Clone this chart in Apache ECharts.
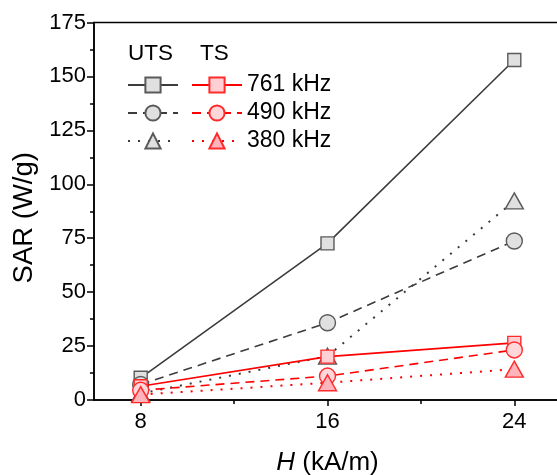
<!DOCTYPE html>
<html>
<head>
<meta charset="utf-8">
<script src="https://cdn.jsdelivr.net/npm/echarts@6/dist/echarts.min.js"></script>
<style>
  html, body { margin: 0; padding: 0; background: #fff; }
  #chart { width: 557px; height: 475px; }
</style>
</head>
<body>
<div id="chart"></div>
<script>
// Applied field strength H (kA/m)
const fieldH = [8, 16, 24];
// Frequencies
const freqLabels = ['761 kHz', '490 kHz', '380 kHz'];
// SAR (W/g) for untreated samples (UTS)
const uts761 = [10.3, 72.6, 157.6];
const uts490 = [7.2, 35.8, 73.7];
const uts380 = [3.0, 20.3, 92.3];
// SAR (W/g) for treated samples (TS)
const ts761 = [6.4, 20.1, 26.5];
const ts490 = [4.5, 11.1, 23.2];
const ts380 = [2.5, 8.0, 14.3];
// Axis ticks
const yTicks = [0, 25, 50, 75, 100, 125, 150, 175];
const xMajorTicks = [8, 16, 24];
const xMinorTicks = [12, 20];

const FONT = '"Liberation Sans", Arial, sans-serif';
const GRAY_LINE = '#3c3c3c';
const GRAY_FILL = '#e0e0e0';
const GRAY_EDGE = '#5a5a5a';
const RED_LINE = '#ff0000';
const RED_EDGE = '#ff2a2a';

const pairs = arr => fieldH.map((h, i) => [h, arr[i]]);

function makeSeries(name, values, group, shape, dash, fill) {
  const isGray = group === 'UTS';
  let size = 13;
  if (shape === 'circle') size = 16;
  if (shape === 'triangle') size = [18, 16];
  return {
    name: name,
    type: 'line',
    data: pairs(values),
    symbol: shape,
    symbolSize: size,
    showSymbol: true,
    animation: false,
    lineStyle: {
      color: isGray ? GRAY_LINE : RED_LINE,
      width: dash === 'dotted' ? 2 : 1.6,
      type: dash === 'solid' ? 'solid' : (dash === 'dashed' ? [9, 6] : [2, 8])
    },
    itemStyle: {
      color: fill,
      borderColor: isGray ? GRAY_EDGE : RED_EDGE,
      borderWidth: 1.4
    },
    emphasis: { disabled: true },
    z: isGray ? 2 : 3
  };
}

const series = [
  makeSeries('UTS ' + freqLabels[0], uts761, 'UTS', 'rect', 'solid', GRAY_FILL),
  makeSeries('UTS ' + freqLabels[1], uts490, 'UTS', 'circle', 'dashed', GRAY_FILL),
  makeSeries('UTS ' + freqLabels[2], uts380, 'UTS', 'triangle', 'dotted', GRAY_FILL),
  makeSeries('TS ' + freqLabels[0], ts761, 'TS', 'rect', 'solid', '#ffcfd4'),
  makeSeries('TS ' + freqLabels[1], ts490, 'TS', 'circle', 'dashed', '#ffd6da'),
  makeSeries('TS ' + freqLabels[2], ts380, 'TS', 'triangle', 'dotted', '#ffb3bb')
];

const legendCommon = {
  orient: 'vertical',
  top: 66,
  itemWidth: 50,
  itemHeight: 19,
  itemGap: 0,
  selectedMode: false,
  textStyle: { fontFamily: FONT, fontSize: 23, color: '#000', lineHeight: 28 }
};

const chart = echarts.init(document.getElementById('chart'), null, { renderer: 'canvas' });
chart.setOption({
  backgroundColor: '#fff',
  animation: false,
  grid: {
    left: 94, top: 22.5, bottom: 75, right: -4,
    outerBoundsMode: 'none',
    containLabel: false,
    show: true, borderColor: '#000', borderWidth: 1.5, backgroundColor: 'transparent'
  },
  legend: [
    Object.assign({}, legendCommon, {
      left: 122,
      data: series.slice(0, 3).map(s => s.name),
      formatter: () => ' '
    }),
    Object.assign({}, legendCommon, {
      left: 186,
      data: series.slice(3).map(s => s.name),
      formatter: name => name.replace('TS ', '')
    })
  ],
  graphic: [
    { type: 'text', left: 128, top: 42, style: { text: 'UTS', font: '22.5px ' + FONT, fill: '#000' } },
    { type: 'text', left: 200, top: 42, style: { text: 'TS', font: '22.5px ' + FONT, fill: '#000' } }
  ],
  xAxis: [
    {
      type: 'value',
      min: 6, max: 26,
      name: '{i|H} (kA/m)',
      nameLocation: 'middle',
      nameGap: 50,
      nameTextStyle: {
        fontFamily: FONT, fontSize: 26, color: '#000',
        rich: {
          i: { fontFamily: FONT, fontSize: 26, fontStyle: 'italic', color: '#000' }
        }
      },
      axisLine: { show: true, onZero: false, lineStyle: { color: '#000', width: 1.5 } },
      axisTick: { show: true, inside: false, length: 6, customValues: xMajorTicks, lineStyle: { color: '#000', width: 1.5 } },
      axisLabel: { show: true, customValues: xMajorTicks, margin: 11, fontFamily: FONT, fontSize: 22, color: '#000' },
      splitLine: { show: false }
    },
    {
      type: 'value',
      min: 6, max: 26,
      position: 'bottom',
      axisLine: { show: false },
      axisTick: { show: true, inside: false, length: 4, customValues: xMinorTicks, lineStyle: { color: '#000', width: 1.5 } },
      axisLabel: { show: false },
      splitLine: { show: false }
    }
  ],
  yAxis: {
    type: 'value',
    min: 0, max: 175, interval: 25,
    name: 'SAR (W/g)',
    nameLocation: 'middle',
    nameGap: 56,
    nameTextStyle: { fontFamily: FONT, fontSize: 27.5, color: '#000', padding: [0, 13, 0, 0] },
    axisLine: { show: true, lineStyle: { color: '#000', width: 1.5 } },
    axisTick: { show: true, inside: false, length: 7, lineStyle: { color: '#000', width: 1.5 } },
    minorTick: { show: true, splitNumber: 2, length: 4, lineStyle: { color: '#000', width: 1.5 } },
    axisLabel: {
      margin: 8, fontFamily: FONT, fontSize: 22, color: '#000',
      formatter: v => (yTicks.indexOf(v) >= 0 ? String(v) : '')
    },
    splitLine: { show: false }
  },
  series: series
});
</script>
</body>
</html>
